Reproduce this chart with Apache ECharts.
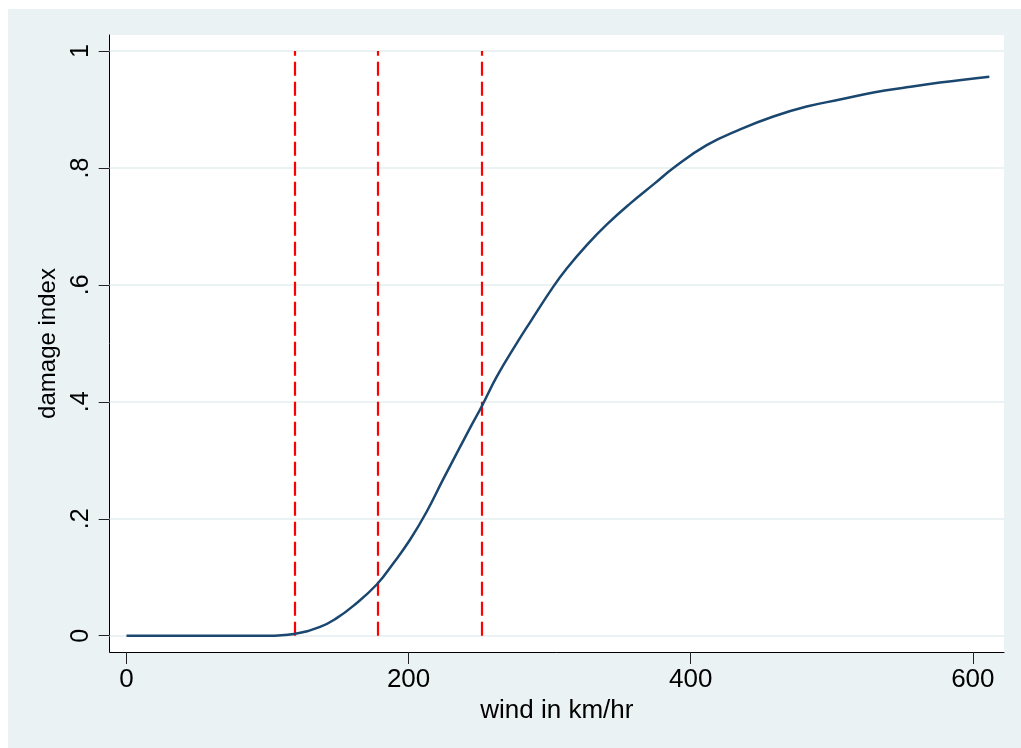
<!DOCTYPE html>
<html>
<head>
<meta charset="utf-8">
<script src="https://cdn.jsdelivr.net/npm/echarts@6/dist/echarts.min.js"></script>
<style>
  html, body { margin: 0; padding: 0; background: #ffffff; }
  #chart { position: absolute; left: 8px; top: 9px; width: 1013px; height: 739px; }
</style>
</head>
<body>
<div id="chart"></div>
<script>
// ---- data ----
const windKmh = [0, 50, 100, 118.7, 137.2, 149, 160.8, 177.6, 189.2, 201, 212.8, 224.2, 243.5, 251.8, 262.5, 276.6, 286.1, 302.6, 312.1, 326.3, 340.4, 357, 374.7, 387.7, 411.3, 435, 458.6, 482.2, 505.8, 529.5, 553.1, 576.7, 611.7];
const damageIndex = [0, 0, 0, 0.003, 0.015, 0.030, 0.051, 0.088, 0.124, 0.164, 0.212, 0.266, 0.355, 0.392, 0.443, 0.500, 0.536, 0.597, 0.628, 0.668, 0.703, 0.739, 0.774, 0.800, 0.839, 0.866, 0.888, 0.905, 0.917, 0.929, 0.938, 0.946, 0.956];
const thresholds = [119, 178, 252];
const xTickValues = [0, 200, 400, 600];
const yTickValues = [0, 0.2, 0.4, 0.6, 0.8, 1];
const yTickLabels = ['0', '.2', '.4', '.6', '.8', '1'];

const linePoints = windKmh.map((w, i) => [w, damageIndex[i]]);

const chart = echarts.init(document.getElementById('chart'));
const font = 'Liberation Sans, Arial, sans-serif';
chart.setOption({
  backgroundColor: '#eaf2f3',
  animation: false,
  grid: {
    left: 101.7, top: 26, right: 17, bottom: 96,
    show: true, backgroundColor: '#ffffff', borderWidth: 0
  },
  xAxis: {
    type: 'value', min: -11.9, max: 622.1,
    name: 'wind in km/hr', nameLocation: 'middle', nameGap: 45,
    nameTextStyle: { fontFamily: font, fontSize: 26, color: '#000' },
    axisLine: { show: true, onZero: false, lineStyle: { color: '#000', width: 1 } },
    axisTick: { show: true, length: 12, customValues: xTickValues, lineStyle: { color: '#222' } },
    axisLabel: { customValues: xTickValues, margin: 15, fontFamily: font, fontSize: 26, color: '#000' },
    splitLine: { show: false }
  },
  yAxis: {
    type: 'value', min: -0.0279, max: 1.0274,
    name: 'damage index', nameLocation: 'middle', nameGap: 46,
    nameTextStyle: { fontFamily: font, fontSize: 24, color: '#000' },
    axisLine: { show: true, onZero: false, lineStyle: { color: '#000', width: 1 } },
    axisTick: { show: true, length: 11, customValues: yTickValues, lineStyle: { color: '#222' } },
    axisLabel: {
      customValues: yTickValues, rotate: 90, margin: 16,
      fontFamily: font, fontSize: 25, color: '#000',
      formatter: v => { const i = yTickValues.findIndex(t => Math.abs(t - v) < 1e-9); return i >= 0 ? yTickLabels[i] : ''; }
    },
    splitLine: { show: false }
  },
  series: [
    {
      type: 'line', data: [], z: 1, silent: true,
      markLine: {
        z: 1, silent: true, symbol: 'none', animation: false,
        label: { show: false },
        lineStyle: { color: '#eaf2f3', width: 2, type: 'solid' },
        data: yTickValues.map(v => ({ yAxis: v }))
      }
    },
    {
      type: 'line', data: [], z: 2, silent: true,
      markLine: {
        z: 2, silent: true, symbol: 'none', animation: false,
        label: { show: false },
        lineStyle: { color: '#ff0000', width: 2.2, type: [14, 6] },
        data: thresholds.map(t => [{ coord: [t, 0] }, { coord: [t, 1] }])
      }
    },
    {
      type: 'line', data: linePoints, z: 6,
      smooth: 0.45, showSymbol: false, symbol: 'none',
      lineStyle: { color: '#1a476f', width: 2.5 }
    }
  ]
});
</script>
</body>
</html>
